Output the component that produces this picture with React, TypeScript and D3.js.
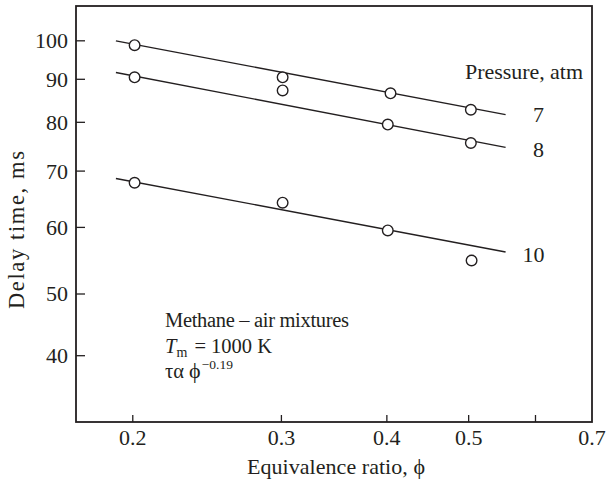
import React from "react";
import * as d3 from "d3";

// ---- data ----
const p7Phi = [0.201, 0.301, 0.404, 0.503];
const p7Delay = [98.8, 90.5, 86.6, 82.8];
const p8Phi = [0.201, 0.301, 0.401, 0.503];
const p8Delay = [90.5, 87.3, 79.5, 75.6];
const p10Phi = [0.201, 0.301, 0.401, 0.504];
const p10Delay = [67.8, 64.2, 59.5, 54.8];

const fitPhi = [0.191, 0.553];
const p7Fit = [100, 81.7];
const p8Fit = [91.7, 74.7];
const p10Fit = [68.6, 56.1];

const seriesNames = ["7", "8", "10"];
const xTickValues = [0.2, 0.3, 0.4, 0.5, 0.6];
const xTickLabels = ["0.2", "0.3", "0.4", "0.5", ""];
const xEndLabel = "0.7";
const yTickValues = [40, 50, 60, 70, 80, 90, 100];

const W = 606;
const H = 483;
const left = 76, right = 592, top = 6, bottom = 422;
const ink = "#231f20";
const font = "'Liberation Serif', 'DejaVu Serif', serif";

export default function App() {
  const x = d3.scaleLog().domain([0.1713, 0.7]).range([left, right]);
  const y = d3.scaleLog().domain([40, 50, 110]).range([355.7, 294, top]);

  const line = d3
    .line<[number, number]>()
    .x((d) => x(d[0]))
    .y((d) => y(d[1]));

  const series = [
    { name: seriesNames[0], phi: p7Phi, delay: p7Delay, fit: p7Fit },
    { name: seriesNames[1], phi: p8Phi, delay: p8Delay, fit: p8Fit },
    { name: seriesNames[2], phi: p10Phi, delay: p10Delay, fit: p10Fit },
  ];
  const labelPos = [
    { dx: 33, dy: 7 },
    { dx: 33, dy: 9.5 },
    { dx: 28, dy: 10 },
  ];

  return (
    <svg
      width={W}
      height={H}
      style={{ position: "absolute", left: 0, top: 0, background: "#fff" }}
      fontFamily={font}
      fill={ink}
    >
      <rect x={0} y={0} width={W} height={H} fill="#fff" />
      {/* frame */}
      <rect
        x={left}
        y={top}
        width={right - left}
        height={bottom - top}
        fill="none"
        stroke={ink}
        strokeWidth={1.8}
      />
      {/* x ticks */}
      {xTickValues.map((v, i) => (
        <g key={"xt" + i}>
          <line x1={x(v)} x2={x(v)} y1={bottom} y2={bottom - 7} stroke={ink} strokeWidth={1.3} />
          <text x={x(v)} y={445} textAnchor="middle" fontSize={22}>
            {xTickLabels[i]}
          </text>
        </g>
      ))}
      <text x={x(0.7)} y={445} textAnchor="middle" fontSize={22}>
        {xEndLabel}
      </text>
      {/* y ticks */}
      {yTickValues.map((v) => (
        <g key={"yt" + v}>
          <line x1={left} x2={left + 9} y1={y(v)} y2={y(v)} stroke={ink} strokeWidth={1.3} />
          <text x={68} y={y(v)} dy="0.34em" textAnchor="end" fontSize={22}>
            {v}
          </text>
        </g>
      ))}
      {/* axis titles */}
      <text x={336} y={474} textAnchor="middle" fontSize={22} textLength={178} lengthAdjust="spacing">
        Equivalence ratio, ϕ
      </text>
      <text
        transform={`translate(24,230) rotate(-90)`}
        textAnchor="middle"
        fontSize={22.5}
        textLength={158}
        lengthAdjust="spacing"
      >
        Delay time, ms
      </text>
      {/* fit lines */}
      {series.map((s) => (
        <path
          key={"fit" + s.name}
          d={line(fitPhi.map((p, i) => [p, s.fit[i]] as [number, number])) || ""}
          fill="none"
          stroke={ink}
          strokeWidth={1.4}
        />
      ))}
      {/* points */}
      {series.map((s) =>
        s.phi.map((p, i) => (
          <circle
            key={"pt" + s.name + i}
            cx={x(p)}
            cy={y(s.delay[i])}
            r={5.3}
            fill="#fff"
            stroke={ink}
            strokeWidth={1.4}
          />
        ))
      )}
      {/* series labels */}
      {series.map((s, i) => (
        <text
          key={"lab" + s.name}
          x={x(fitPhi[1]) + labelPos[i].dx}
          y={y(s.fit[1]) + labelPos[i].dy}
          textAnchor="middle"
          fontSize={22}
        >
          {s.name}
        </text>
      ))}
      <text x={465} y={79} fontSize={22} textLength={118} lengthAdjust="spacing">
        Pressure, atm
      </text>
      {/* annotation */}
      <text x={165} y={327} fontSize={20.5} textLength={184} lengthAdjust="spacing">
        Methane – air mixtures
      </text>
      <text x={165} y={353} fontSize={20.5}>
        <tspan fontStyle="italic">T</tspan>
        <tspan fontSize={14} dy={4}>m</tspan>
        <tspan dy={-4} dx={2}> = 1000 K</tspan>
      </text>
      <text x={165} y={378} fontSize={20.5}>
        <tspan>τα </tspan>
        <tspan fontSize={22}>ϕ</tspan>
        <tspan fontSize={13.5} dy={-9.5} dx={1}>−0.19</tspan>
      </text>
    </svg>
  );
}
